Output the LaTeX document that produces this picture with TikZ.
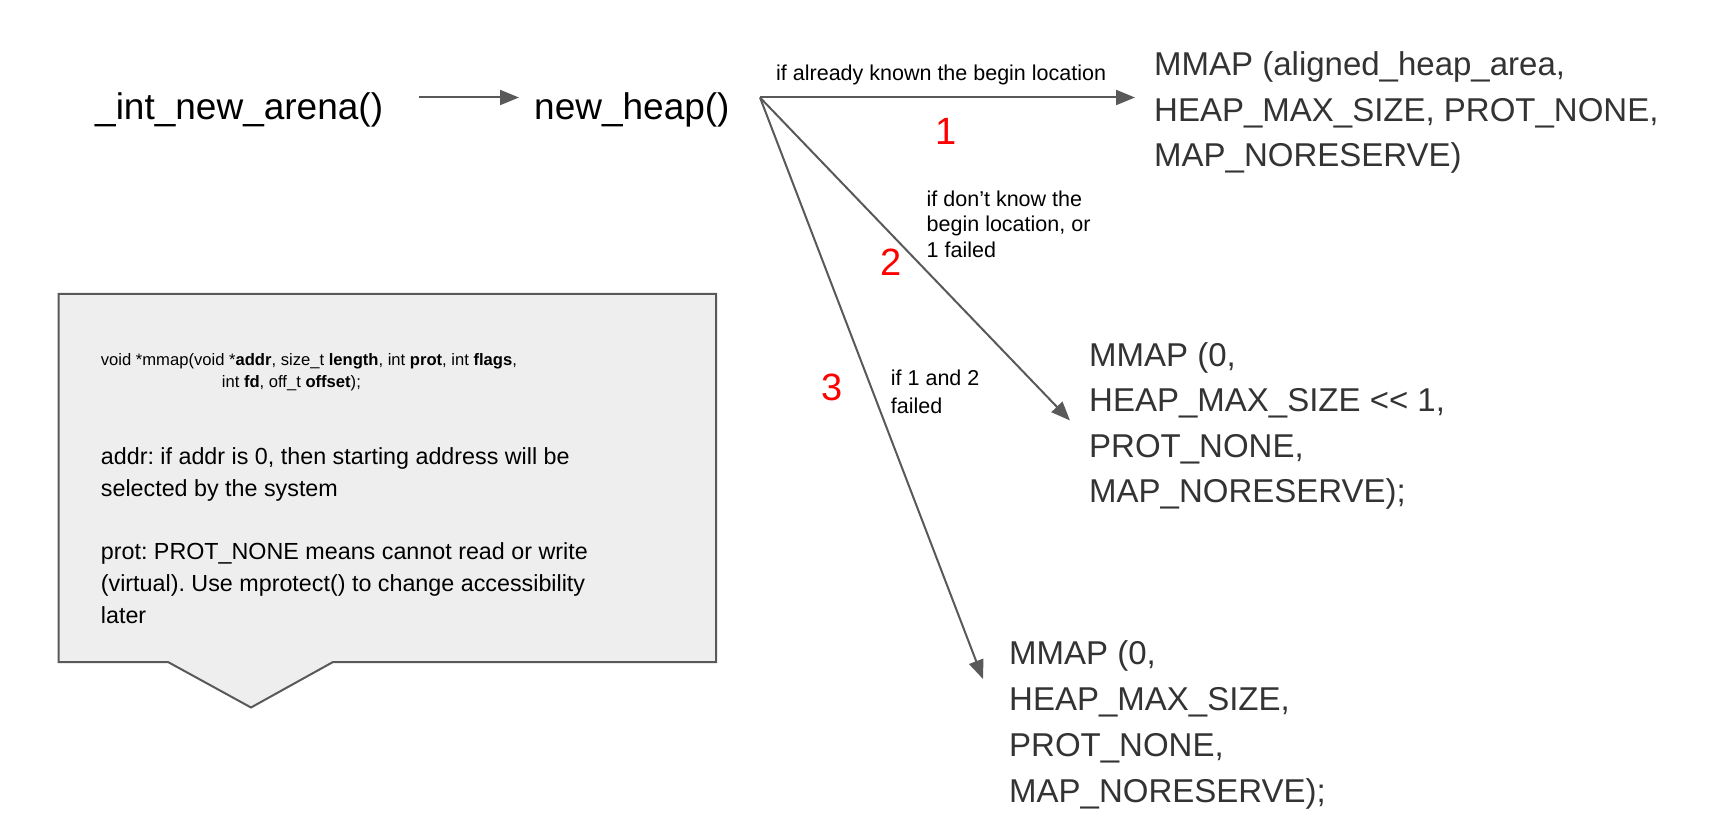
\documentclass[tikz,border=0pt]{standalone}
\usepackage{fontspec}
\setmainfont{Liberation Sans}
\usetikzlibrary{arrows.meta,calc}
\definecolor{arrowgray}{HTML}{595959}
\definecolor{mmapgray}{HTML}{333333}
\definecolor{boxfill}{HTML}{EEEEEE}
\definecolor{numred}{HTML}{FF0000}
\begin{document}
\frenchspacing
\begin{tikzpicture}[x=1pt,y=-1pt,
  fn/.style={inner sep=0, anchor=base west, font=\fontsize{37}{44}\selectfont},
  mmap/.style={inner sep=0, anchor=base west, align=left, text=mmapgray, font=\fontsize{33}{45.5}\selectfont},
  lbl/.style={inner sep=0, anchor=base west, align=left, font=\fontsize{21.5}{25.3}\selectfont},
  num/.style={inner sep=0, anchor=base, text=numred, font=\fontsize{38}{44}\selectfont},
  conn/.style={draw=arrowgray, line width=2pt, -{Triangle[length=19pt,width=15pt]}},
  callout/.style={fill=boxfill, draw=arrowgray, line width=2pt, line join=miter},
  codetxt/.style={inner sep=0, anchor=base west, align=left, font=\fontsize{16.6}{22.7}\selectfont},
  notetxt/.style={inner sep=0, anchor=base west, align=left, font=\fontsize{23.3}{32}\selectfont\frenchspacing},
]
\useasboundingbox (0,0) rectangle (1732,834);

% nodes (multi-line nodes are placed by the baseline of their last line)
\node[fn] (arena) at (95,120) {\_int\_new\_arena()};
\node[fn] (heap) at (534,120) {new\_heap()};

\node[mmap] (m1) at (1154,167) {MMAP (aligned\_heap\_area,\\HEAP\_MAX\_SIZE, PROT\_NONE,\\MAP\_NORESERVE)};
\node[mmap] (m2) at (1089,502.5) {MMAP (0,\\HEAP\_MAX\_SIZE <{}< 1,\\PROT\_NONE,\\MAP\_NORESERVE);};
\node[mmap, font=\fontsize{33}{46}\selectfont] (m3) at (1009,802) {MMAP (0,\\HEAP\_MAX\_SIZE,\\PROT\_NONE,\\MAP\_NORESERVE);};

% connector end points
\coordinate (src) at (760,97.5);
\coordinate (t1) at (1135,97.5);
\coordinate (t2) at (1070,420.5);
\coordinate (t3) at (983,679);

\draw[conn] ($(arena.east |- src)+(36,0)$) -- ($(heap.west |- src)+(-15,0)$);
\draw[conn] (src) -- (t1);
\draw[conn] (src) -- (t2);
\draw[conn] (src) -- (t3);

% labels
\node[lbl] (l1) at (776,81) {if already known the begin location};
\node[lbl] (l2) at (926.5,257.3) {if don’t know the\\begin location, or\\1 failed};
\node[lbl, font=\fontsize{21.5}{28.3}\selectfont] (l3) at (890.7,413.3) {if 1 and 2\\failed};

\node[num] (n1) at (946,145) {1};
\node[num] (n2) at (891,276) {2};
\node[num] (n3) at (832.5,400) {3};

% callout
\path[callout] (58.5,294) -- (716,294) -- (716,662) -- (333,662) -- (251,707.5) -- (168,662) -- (58.5,662) -- cycle;
\node[codetxt] (code) at (100.7,387.7) {void *mmap(void *\textbf{addr}, size\_t \textbf{length}, int \textbf{prot}, int \textbf{flags},\\\hspace*{121pt}int \textbf{fd}, off\_t \textbf{offset});};
\node[notetxt] (addrnote) at (100.7,496) {addr: if addr is 0, then starting address will be\\selected by the system};
\node[notetxt] (protnote) at (100.7,623) {prot: PROT\_NONE means cannot read or write\\(virtual). Use mprotect() to change accessibility\\later};
\end{tikzpicture}
\end{document}
